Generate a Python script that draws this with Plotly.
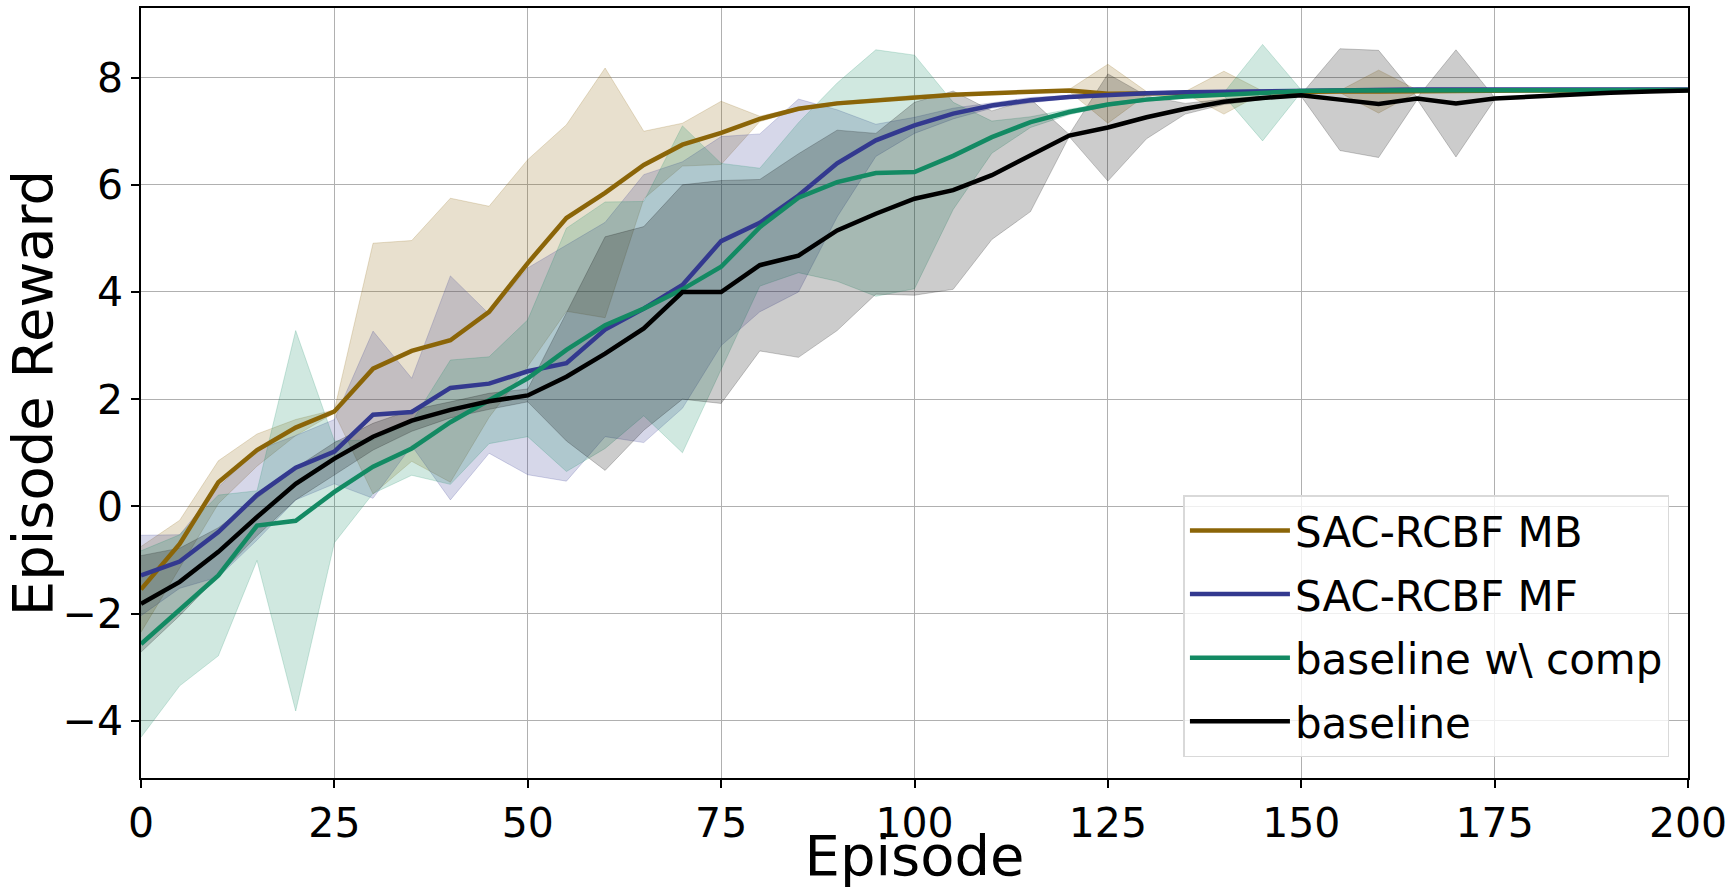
import numpy as np
import plotly.graph_objects as go

episodes = list(range(0, 201, 5))

# mean episode reward per method
mb_mean = [-1.55, -0.70, 0.45, 1.05, 1.47, 1.77, 2.57, 2.90, 3.10, 3.63,
           4.54, 5.38, 5.85, 6.37, 6.75, 6.97, 7.23, 7.42, 7.52, 7.58,
           7.64, 7.68, 7.71, 7.74, 7.76, 7.70, 7.71, 7.72, 7.72, 7.73,
           7.74, 7.74, 7.74, 7.75, 7.75, 7.75, 7.76, 7.76, 7.76, 7.77, 7.77]
mf_mean = [-1.29, -1.03, -0.48, 0.21, 0.72, 1.02, 1.71, 1.76, 2.21, 2.29,
           2.52, 2.67, 3.30, 3.69, 4.13, 4.95, 5.29, 5.80, 6.40, 6.83,
           7.11, 7.33, 7.48, 7.58, 7.64, 7.68, 7.71, 7.73, 7.74, 7.75,
           7.77, 7.77, 7.78, 7.78, 7.78, 7.78, 7.78, 7.78, 7.78, 7.78, 7.78]
comp_mean = [-2.57, -1.94, -1.29, -0.36, -0.27, 0.27, 0.74, 1.08, 1.57, 1.98,
             2.39, 2.92, 3.38, 3.69, 4.05, 4.47, 5.21, 5.76, 6.05, 6.22,
             6.24, 6.54, 6.89, 7.17, 7.36, 7.50, 7.59, 7.65, 7.69, 7.72,
             7.75, 7.76, 7.76, 7.77, 7.77, 7.77, 7.77, 7.77, 7.77, 7.77, 7.77]
base_mean = [-1.82, -1.41, -0.85, -0.20, 0.42, 0.89, 1.30, 1.60, 1.80, 1.96,
             2.07, 2.42, 2.85, 3.32, 4.00, 4.00, 4.50, 4.68, 5.15, 5.46,
             5.74, 5.90, 6.18, 6.55, 6.92, 7.07, 7.26, 7.42, 7.55, 7.62,
             7.67, 7.59, 7.51, 7.61, 7.52, 7.61, 7.65, 7.69, 7.72, 7.74, 7.76]

# standard deviation (half width of the shaded band)
mb_std = [0.80, 0.44, 0.40, 0.30, 0.15, 0.03, 2.34, 2.06, 2.65, 1.97,
          1.93, 1.74, 2.33, 0.63, 0.40, 0.59, 0.05, 0.03, 0.03, 0.03,
          0.03, 0.02, 0.02, 0.02, 0.02, 0.55, 0.03, 0.02, 0.40, 0.02,
          0.02, 0.02, 0.40, 0.02, 0.02, 0.02, 0.02, 0.02, 0.02, 0.02, 0.02]
mf_std = [0.75, 0.50, 0.84, 0.84, 0.60, 0.60, 1.56, 0.63, 2.09, 1.30,
          1.93, 2.20, 2.00, 2.50, 2.30, 1.95, 1.66, 1.80, 1.00, 0.30,
          0.15, 0.10, 0.05, 0.05, 0.03, 0.02, 0.02, 0.02, 0.02, 0.02,
          0.02, 0.02, 0.02, 0.02, 0.02, 0.02, 0.02, 0.02, 0.02, 0.02, 0.02]
comp_std = [1.74, 1.41, 1.50, 0.65, 3.55, 0.95, 0.50, 0.50, 1.16, 0.81,
            1.09, 2.27, 2.30, 2.00, 3.05, 1.93, 1.10, 1.40, 1.85, 2.30,
            2.18, 1.00, 0.30, 0.10, 0.05, 0.03, 0.03, 0.03, 0.03, 0.90,
            0.02, 0.02, 0.02, 0.02, 0.02, 0.02, 0.02, 0.02, 0.02, 0.02, 0.02]
base_std = [0.90, 0.63, 0.45, 0.35, 0.30, 0.30, 0.25, 0.20, 0.15, 0.15,
            0.12, 1.20, 2.18, 1.90, 2.00, 2.08, 1.60, 1.90, 1.87, 1.50,
            1.80, 1.85, 1.20, 1.05, 0.02, 1.00, 0.40, 0.10, 0.05, 0.03,
            0.02, 0.95, 1.00, 0.02, 1.00, 0.02, 0.02, 0.02, 0.02, 0.02, 0.02]

series = [
    ("SAC-RCBF MB", mb_mean, mb_std, (139, 101, 8)),
    ("SAC-RCBF MF", mf_mean, mf_std, (51, 57, 143)),
    ("baseline w\\ comp", comp_mean, comp_std, (19, 138, 99)),
    ("baseline", base_mean, base_std, (0, 0, 0)),
]

FONT = "DejaVu Sans"

fig = go.Figure()

# shaded bands first
for name, mean, std, c in series:
    mean = np.array(mean)
    std = np.array(std)
    rgba = "rgba(%d,%d,%d,0.2)" % c
    fig.add_trace(go.Scatter(x=episodes, y=mean + std, mode="lines",
                             line=dict(color=rgba, width=1),
                             showlegend=False, hoverinfo="skip"))
    fig.add_trace(go.Scatter(x=episodes, y=mean - std, mode="lines",
                             line=dict(color=rgba, width=1),
                             fill="tonexty", fillcolor=rgba,
                             showlegend=False, hoverinfo="skip"))

# mean lines on top
for name, mean, std, c in series:
    fig.add_trace(go.Scatter(x=episodes, y=mean, mode="lines", name=name,
                             legendgroup=name,
                             line=dict(color="rgb(%d,%d,%d)" % c, width=4.5)))

axis_style = dict(
    showline=True, linecolor="black", linewidth=1.5, mirror=True,
    showgrid=True, gridcolor="#b0b0b0", gridwidth=1,
    ticks="outside", ticklen=8, tickwidth=1.5, tickcolor="black",
    tickfont=dict(family=FONT, size=41, color="black"),
    zeroline=False, automargin=False,
)

fig.update_layout(
    width=1730, height=888,
    margin=dict(l=141, r=42, t=8, b=110),
    plot_bgcolor="white", paper_bgcolor="white",
    font=dict(family=FONT, color="black"),
    xaxis=dict(range=[0, 200], tickvals=[0, 25, 50, 75, 100, 125, 150, 175, 200],
               title=dict(text="Episode", font=dict(family=FONT, size=56), standoff=8),
               **axis_style),
    yaxis=dict(range=[-5.07, 9.3], tickvals=[-4, -2, 0, 2, 4, 6, 8],
               ticktext=["\u22124", "\u22122", "0", "2", "4", "6", "8"],
               title=dict(text="Episode Reward", font=dict(family=FONT, size=56), standoff=16),
               **axis_style),
    legend=dict(x=0.988, y=0.027, xanchor="right", yanchor="bottom",
                bgcolor="rgba(255,255,255,0.8)", bordercolor="#d9d9d9", borderwidth=1.5,
                font=dict(family=FONT, size=42, color="black"),
                itemwidth=100, tracegroupgap=6),
)

fig.write_html("out.html", config={"displayModeBar": False},
               post_script="document.body.style.margin='0';document.body.style.overflow='hidden';")
